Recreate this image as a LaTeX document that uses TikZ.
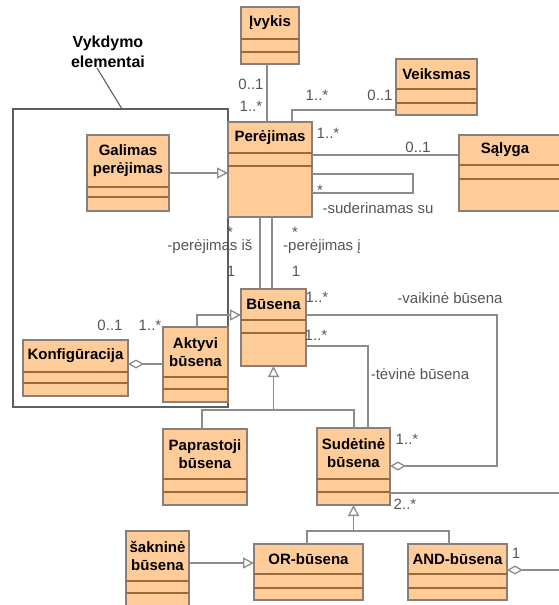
\documentclass[tikz,border=0pt]{standalone}
\usepackage{fontspec}
\setmainfont{Liberation Sans}
\usetikzlibrary{arrows.meta}
\definecolor{boxfill}{HTML}{FFCC99}
\definecolor{boxline}{HTML}{8A7F78}
\definecolor{sepline}{HTML}{9C6A3A}
\definecolor{linec}{HTML}{8C8C8C}
\definecolor{labc}{HTML}{555555}
\definecolor{framec}{HTML}{5E5E5E}
\tikzset{
  cls/.style={draw=boxline, fill=boxfill, line width=1.1pt, inner sep=0pt, outer sep=0pt, rectangle},
  sepl/.style={draw=sepline, line width=1.1pt},
  ttl/.style={font=\bfseries\fontsize{15}{18}\selectfont, align=center, inner sep=0pt, text=black},
  lbl/.style={font=\fontsize{15}{18}\selectfont, inner sep=0pt, text=labc},
  conn/.style={draw=linec, line width=1.3pt},
  gen/.style={conn, -{Triangle[open, length=11pt, width=11pt, fill=white]}},
  agg/.style={conn, {Diamond[open, length=16pt, width=9pt, fill=white]}-},
  aggend/.style={conn, -{Diamond[open, length=16pt, width=9pt, fill=white]}},
  framebox/.style={draw=framec, line width=1.6pt, inner sep=0pt, outer sep=0pt, rectangle},
}
\newcommand\umlcls[8]{%
  \node[cls, anchor=north west, minimum width={(#4)-(#2)}, minimum height={(#5)-(#3)}] (#1) at (#2,#3) {};
  \draw[sepl] (#2,#6) -- (#4,#6) (#2,#7) -- (#4,#7);
  \node[ttl] (#1t) at ({(#2+#4)/2},{(#3+#6)/2}) {#8};
}
\begin{document}
\begin{tikzpicture}[x=1pt,y=-1pt]
\useasboundingbox (0,0) rectangle (559,605);
\clip (0,0) rectangle (559,605);

% frame and note
\node[framebox, anchor=north west, minimum width=215, minimum height=298] (frame) at (13,109) {};
\node[ttl, font=\bfseries\fontsize{16}{20}\selectfont] (note) at (108,52) {Vykdymo\\elementai};
\coordinate (notetip) at (97,68);
\draw[draw=framec, line width=1.1pt] (notetip) -- (frame.north -| 122,0);

% classes
\umlcls{ivykis}{241}{7}{299}{64}{39}{52}{Įvykis}
\umlcls{veiksmas}{396}{59}{477}{115}{89}{103}{Veiksmas}
\umlcls{perejimas}{228}{122}{312}{217}{153}{166}{Perėjimas}
\node[cls, anchor=north west, minimum width=110, minimum height=76] (salyga) at (459,135) {};
\draw[sepl] (459,165) -- (569,165) (459,179) -- (569,179);
\node[ttl] (salygat) at (505,150) {Sąlyga};
\umlcls{galimas}{87}{135}{169}{211}{187}{197}{Galimas\\perėjimas}
\umlcls{busena}{241}{289}{306}{366}{320}{333}{Būsena}
\umlcls{aktyvi}{163}{327}{228}{402}{377}{389}{Aktyvi\\būsena}
\umlcls{konfig}{23}{340}{128}{396}{372}{383}{Konfigūracija}
\umlcls{paprastoji}{163}{429}{247}{505}{479}{492}{Paprastoji\\būsena}
\umlcls{sudetine}{317}{428}{390}{505}{479}{492}{Sudėtinė\\būsena}
\umlcls{saknine}{126}{531}{189}{612}{581}{593}{šakninė\\būsena}
\umlcls{ornode}{254}{544}{363}{600}{574}{588}{OR-būsena}
\umlcls{andnode}{408}{544}{507}{600}{574}{588}{AND-būsena}

% connectors
\coordinate (rt1) at (565,493);
\coordinate (rt2) at (565,570);
\draw[conn] (ivykis.south -| 267,0) -- (perejimas.north -| 267,0);
\draw[conn] (veiksmas.west |- 0,110) -| (perejimas.north -| 292,0);
\draw[conn] (perejimas.east |- 0,155) -- (salyga.west |- 0,155);
\draw[conn] (perejimas.east |- 0,174) -- (413,174) -- (413,193) -- (perejimas.east |- 0,193);
\draw[gen] (galimas.east |- 0,173) -- (perejimas.west |- 0,173);
\draw[conn] (perejimas.south -| 260,0) -- (busena.north -| 260,0);
\draw[conn] (perejimas.south -| 272,0) -- (busena.north -| 272,0);
\draw[gen] (aktyvi.north -| 197,0) |- (busena.west |- 0,315);
\draw[agg] (konfig.east |- 0,364) -- (aktyvi.west |- 0,364);
\draw[conn] (paprastoji.north -| 202,0) |- (354,410) -- (sudetine.north -| 354,0);
\draw[gen] (busena.south |- 0,410) -- (busena.south);
\draw[conn] (busena.east |- 0,346) -| (sudetine.north -| 368,0);
\draw[aggend] (busena.east |- 0,315) -- (497,315) |- (sudetine.east |- 0,466);
\draw[conn] (sudetine.east |- 0,493) -- (rt1);
\draw[conn] (ornode.north -| 307,0) |- (449,531) -- (andnode.north -| 449,0);
\draw[gen] (sudetine.south |- 0,531) -- (sudetine.south);
\draw[gen] (saknine.east |- 0,563) -- (ornode.west |- 0,563);
\draw[agg] (andnode.east |- 0,570) -- (rt2);

% labels
\node[lbl] (m1) at (251,84) {0..1};
\node[lbl] (m2) at (251,106) {1..*};
\node[lbl] (m3) at (317,95) {1..*};
\node[lbl] (m4) at (380,95) {0..1};
\node[lbl] (m5) at (328,133) {1..*};
\node[lbl] (m6) at (418,147) {0..1};
\node[lbl] (m7) at (320,190) {*};
\node[lbl] (r1) at (378,208) {-suderinamas su};
\node[lbl] (m8) at (230,232) {*};
\node[lbl] (r2) at (210,247) {-perėjimas iš};
\node[lbl] (m9) at (231,271) {1};
\node[lbl] (m10) at (295,232) {*};
\node[lbl] (r3) at (322,247) {-perėjimas į};
\node[lbl] (m11) at (296,271) {1};
\node[lbl] (m12) at (317,297) {1..*};
\node[lbl] (r4) at (450,298) {-vaikinė būsena};
\node[lbl] (m13) at (316,335) {1..*};
\node[lbl] (r5) at (420,374) {-tėvinė būsena};
\node[lbl] (m14) at (110,325) {0..1};
\node[lbl] (m15) at (150,325) {1..*};
\node[lbl] (m16) at (407,439) {1..*};
\node[lbl] (m17) at (405,504) {2..*};
\node[lbl] (m18) at (516,553) {1};
\end{tikzpicture}
\end{document}
